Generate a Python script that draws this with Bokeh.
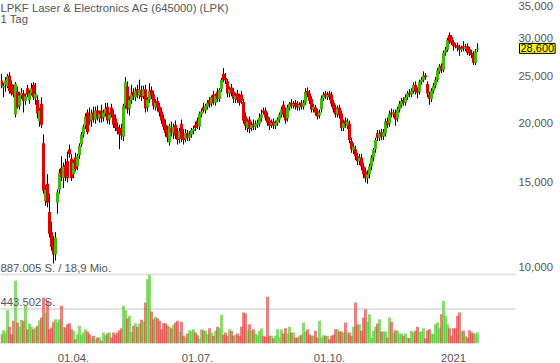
import numpy as np
from bokeh.plotting import figure
from bokeh.models import (Range1d, LinearScale, FixedTicker, LinearAxis,
                          Label, ColumnDataSource)
from bokeh.embed import file_html
from bokeh.resources import INLINE

# ---------------- data ----------------
title_text = "LPKF Laser & Electronics AG (645000) (LPK)"
period_text = "1 Tag"
vol_max_text = "887.005 S. / 18,9 Mio."
vol_half_text = "443.502 S."
vol_max = 887005

opens = [24.5, 23.7, 24.0, 23.8, 25.1, 24.1, 23.6, 20.8, 23.2, 21.7, 22.8, 23.0, 22.2, 23.6, 22.3, 23.0, 24.0, 22.5, 22.3, 20.1,
         21.9, 18.1, 13.7, 14.9, 13.0, 11.8, 11.0, 10.6, 13.6, 14.5, 16.1, 15.3, 16.3, 16.6, 17.6, 16.8, 15.6, 16.9, 16.2, 17.1,
         18.0, 18.9, 19.7, 21.0, 20.8, 20.2, 21.0, 20.3, 21.2, 20.4, 21.2, 20.5, 20.9, 21.6, 20.3, 21.5, 20.8, 20.4, 19.6, 19.4,
         19.5, 18.7, 21.7, 23.8, 21.4, 22.3, 23.2, 22.6, 23.5, 22.8, 23.4, 22.7, 23.5, 21.5, 22.3, 23.4, 22.9, 21.6, 22.2, 21.6,
         21.1, 20.4, 19.8, 19.3, 18.2, 19.5, 19.0, 19.8, 19.1, 18.5, 19.9, 18.9, 18.5, 19.0, 18.6, 18.9, 19.2, 19.8, 20.2, 19.6,
         20.8, 21.6, 21.2, 21.6, 22.3, 21.9, 22.9, 22.0, 23.2, 22.4, 23.5, 25.3, 24.8, 24.4, 23.0, 23.7, 23.2, 22.4, 23.0, 22.6,
         22.9, 22.1, 20.6, 19.5, 20.3, 19.5, 19.9, 19.6, 19.8, 19.9, 20.4, 21.2, 21.2, 20.6, 20.2, 19.8, 20.1, 19.7, 20.0, 20.3,
         20.8, 21.8, 21.2, 20.4, 21.5, 22.0, 21.7, 22.0, 21.9, 21.5, 22.0, 21.6, 22.0, 23.3, 23.0, 22.4, 21.3, 21.5, 21.1, 20.7,
         21.3, 22.5, 23.0, 22.6, 23.0, 22.9, 22.0, 21.5, 20.8, 21.5, 20.9, 19.5, 20.2, 19.7, 19.9, 18.3, 17.5, 17.6, 17.0, 16.6,
         16.9, 16.2, 15.8, 15.3, 15.6, 16.2, 16.9, 17.6, 19.0, 18.6, 19.1, 18.7, 19.0, 20.1, 19.9, 21.0, 20.8, 21.0, 20.4, 21.3,
         21.8, 22.3, 22.0, 22.6, 23.1, 22.9, 23.3, 24.0, 23.4, 23.2, 24.3, 24.6, 25.1, 24.1, 22.9, 22.4, 23.3, 23.9, 24.6, 25.6,
         26.3, 25.8, 28.0, 28.4, 30.5, 30.2, 29.5, 29.0, 29.0, 28.8, 28.4, 28.9, 28.5, 28.9, 28.5, 28.0, 27.9, 26.7, 28.4]
highs = [25.3, 24.2, 24.9, 25.3, 25.5, 24.5, 24.0, 24.3, 23.8, 23.2, 23.6, 23.4, 23.0, 24.0, 23.4, 24.2, 24.3, 24.2, 22.8, 21.5,
         22.6, 18.9, 14.8, 15.6, 14.2, 12.4, 11.6, 11.8, 14.5, 16.0, 17.0, 16.5, 16.8, 17.4, 18.0, 17.2, 16.7, 17.3, 17.2, 18.1,
         19.1, 19.8, 20.9, 21.3, 21.5, 21.3, 21.6, 21.6, 21.7, 21.2, 21.8, 21.3, 22.0, 22.0, 21.0, 21.9, 21.3, 20.8, 20.0, 19.8,
         19.9, 21.9, 24.9, 24.4, 22.7, 24.0, 23.6, 23.7, 24.0, 24.6, 23.9, 23.9, 24.0, 22.6, 24.2, 23.8, 23.3, 22.4, 22.6, 22.0,
         21.5, 20.8, 20.3, 19.7, 19.9, 20.1, 19.9, 20.2, 19.5, 19.5, 20.3, 19.4, 19.4, 19.3, 19.2, 19.5, 19.7, 20.1, 20.5, 21.1,
         21.4, 22.0, 21.9, 22.3, 22.6, 22.8, 23.3, 23.0, 23.6, 23.6, 24.8, 26.0, 25.4, 24.7, 23.8, 24.1, 23.6, 23.1, 23.4, 23.0,
         23.3, 22.4, 21.0, 20.4, 20.6, 20.1, 20.3, 20.2, 20.3, 20.9, 21.3, 21.5, 21.5, 21.0, 20.5, 20.3, 20.4, 20.2, 20.5, 21.0,
         21.6, 22.2, 21.5, 21.8, 22.1, 22.4, 22.2, 22.3, 22.2, 22.1, 22.3, 22.3, 23.6, 23.7, 23.4, 22.7, 21.9, 21.8, 21.4, 21.3,
         22.8, 23.2, 23.3, 23.2, 23.3, 23.2, 22.3, 21.8, 21.7, 21.8, 21.2, 20.3, 20.5, 20.4, 20.2, 18.6, 18.1, 17.9, 17.3, 17.2,
         17.2, 16.5, 16.1, 15.9, 16.4, 17.1, 17.7, 18.6, 19.3, 19.3, 19.4, 19.4, 20.4, 20.5, 21.2, 21.4, 21.3, 21.3, 21.6, 22.2,
         22.5, 22.6, 22.9, 23.3, 23.5, 23.6, 24.3, 24.4, 23.7, 24.6, 24.9, 25.6, 25.4, 24.4, 23.2, 23.6, 24.2, 24.9, 26.0, 26.5,
         26.6, 28.3, 28.8, 30.1, 30.9, 30.5, 29.8, 29.3, 29.4, 29.1, 29.0, 29.6, 29.2, 29.3, 28.8, 28.4, 28.2, 28.5, 29.3]
lows = [23.6, 22.6, 23.2, 23.6, 23.0, 22.8, 22.6, 20.5, 21.4, 21.3, 22.4, 21.0, 21.8, 22.6, 21.9, 22.8, 22.3, 21.8, 20.4, 19.6,
        19.5, 14.2, 13.4, 13.3, 11.5, 10.8, 10.15, 10.3, 12.9, 14.2, 15.1, 14.6, 15.1, 15.0, 16.9, 15.1, 15.3, 15.8, 15.9, 16.8,
        17.8, 18.6, 19.4, 18.9, 19.8, 19.6, 20.0, 19.9, 20.2, 20.0, 20.0, 20.1, 20.6, 19.9, 19.8, 20.5, 19.5, 19.2, 18.9, 17.6,
        18.4, 18.3, 21.4, 20.9, 20.7, 21.9, 22.3, 22.2, 22.5, 22.4, 22.2, 22.4, 21.0, 21.1, 22.0, 22.4, 21.3, 21.2, 21.1, 20.6,
        19.9, 19.3, 18.7, 18.2, 17.9, 18.7, 18.5, 18.5, 18.0, 18.1, 18.2, 18.0, 18.2, 18.3, 18.3, 18.6, 18.9, 19.2, 19.4, 19.3,
        20.5, 21.0, 20.9, 21.3, 21.5, 21.6, 21.8, 21.7, 22.1, 22.1, 23.2, 24.3, 24.1, 22.6, 22.6, 22.7, 22.0, 22.0, 22.0, 21.7,
        21.9, 19.9, 19.3, 19.1, 19.0, 19.2, 19.3, 19.3, 19.5, 19.6, 20.1, 20.8, 20.2, 19.7, 19.3, 19.5, 19.4, 19.4, 19.7, 20.0,
        20.5, 20.5, 19.9, 20.1, 21.2, 21.4, 21.4, 21.3, 21.2, 21.2, 21.3, 21.3, 21.8, 22.6, 21.9, 21.0, 21.0, 20.7, 20.3, 20.4,
        21.0, 22.2, 22.4, 22.3, 22.3, 21.6, 21.0, 20.5, 20.5, 20.4, 19.2, 19.2, 19.5, 19.4, 18.1, 17.3, 17.2, 16.7, 16.3, 16.3,
        15.9, 15.3, 15.0, 14.9, 15.3, 15.9, 16.6, 17.3, 18.3, 18.3, 18.4, 18.4, 18.7, 19.5, 19.6, 20.5, 20.5, 19.7, 20.1, 21.0,
        21.5, 21.7, 21.7, 22.3, 22.6, 22.6, 23.0, 22.9, 22.5, 22.9, 24.0, 24.3, 24.6, 22.6, 21.8, 22.1, 23.0, 23.6, 24.3, 25.3,
        25.4, 25.5, 27.6, 28.1, 29.2, 29.1, 28.3, 28.6, 28.2, 27.6, 28.1, 28.2, 28.2, 27.7, 27.6, 27.3, 26.4, 26.4, 28.1]
closes = [23.9, 23.9, 24.5, 25.0, 23.3, 23.0, 22.9, 24.1, 21.6, 22.8, 23.1, 22.2, 22.7, 22.9, 23.0, 23.6, 22.6, 23.0, 20.9, 21.2,
          19.8, 14.4, 14.5, 13.6, 11.7, 11.0, 10.6, 11.5, 14.3, 15.7, 15.4, 16.2, 15.4, 15.3, 17.2, 15.3, 16.5, 16.0, 17.0, 17.9,
          18.9, 19.6, 20.6, 19.1, 20.1, 20.9, 20.3, 21.2, 20.5, 20.9, 20.4, 21.0, 21.4, 20.2, 20.8, 20.8, 19.8, 19.5, 19.2, 18.9,
          18.8, 21.7, 24.3, 21.3, 22.3, 23.0, 22.7, 23.3, 22.9, 23.4, 22.6, 23.5, 21.4, 22.3, 23.3, 22.8, 21.7, 22.0, 21.5, 21.0,
          20.2, 19.6, 19.0, 18.6, 19.7, 19.1, 19.6, 18.8, 18.4, 19.2, 18.5, 18.4, 19.0, 18.6, 18.9, 19.3, 19.4, 19.5, 19.7, 20.9,
          21.1, 21.2, 21.7, 22.0, 21.8, 22.6, 22.0, 22.8, 22.4, 23.4, 24.6, 24.6, 24.5, 23.0, 23.5, 23.0, 22.4, 22.8, 22.3, 22.0,
          22.2, 20.2, 19.7, 20.1, 19.4, 19.8, 19.6, 19.9, 20.0, 20.5, 20.8, 21.0, 20.5, 20.0, 19.7, 20.0, 19.7, 20.0, 20.3, 20.8,
          21.3, 20.8, 20.2, 21.5, 21.9, 21.7, 21.9, 21.6, 21.5, 21.8, 21.6, 22.0, 23.2, 22.9, 22.2, 21.3, 21.6, 21.0, 20.6, 21.0,
          22.5, 22.9, 22.7, 22.9, 22.6, 21.9, 21.3, 20.8, 21.4, 20.7, 19.5, 20.0, 19.8, 20.1, 18.4, 17.6, 17.8, 17.0, 16.6, 16.9,
          16.2, 15.6, 15.3, 15.6, 16.2, 16.9, 17.5, 18.4, 18.6, 19.0, 18.7, 19.1, 20.1, 19.8, 20.9, 20.8, 21.0, 20.3, 21.3, 21.9,
          22.2, 22.0, 22.6, 23.0, 22.9, 23.3, 24.0, 23.2, 23.1, 24.3, 24.6, 25.1, 24.9, 23.0, 22.4, 23.3, 23.9, 24.6, 25.7, 26.2,
          25.7, 28.0, 28.4, 29.8, 29.5, 29.4, 28.9, 28.9, 28.7, 28.4, 28.6, 28.6, 28.8, 28.0, 27.9, 27.7, 26.7, 28.2, 28.6]
volumes = [120000, 171000, 141000, 428000, 215000, 120000, 292000, 806000, 270000, 215000,
           305000, 292000, 485000, 184000, 257000, 215000, 184000, 206000, 228000, 300000,
           334000, 591000, 398000, 549000, 184000, 206000, 279000, 312000, 270000, 312000,
           485000, 215000, 206000, 248000, 261000, 184000, 163000, 55000, 120000, 228000,
           112000, 141000, 184000, 154000, 120000, 77000, 99000, 55000, 77000, 77000,
           35000, 141000, 107000, 132000, 141000, 77000, 141000, 112000, 141000, 171000,
           197000, 485000, 428000, 326000, 356000, 150000, 228000, 261000, 215000, 257000,
           305000, 283000, 527000, 827000, 883000, 411000, 312000, 343000, 326000, 292000,
           184000, 261000, 261000, 228000, 215000, 197000, 240000, 270000, 292000, 154000,
           279000, 99000, 77000, 129000, 171000, 163000, 184000, 141000, 107000, 64000,
           184000, 171000, 163000, 120000, 197000, 141000, 99000, 163000, 215000, 197000,
           369000, 112000, 141000, 99000, 184000, 163000, 99000, 112000, 129000, 99000,
           215000, 398000, 386000, 171000, 248000, 171000, 184000, 129000, 107000, 163000,
           193000, 99000, 86000, 600000, 99000, 99000, 69000, 99000, 184000, 77000,
           184000, 129000, 197000, 129000, 215000, 141000, 141000, 77000, 77000, 99000,
           112000, 270000, 154000, 184000, 120000, 99000, 99000, 163000, 77000, 292000,
           77000, 107000, 99000, 99000, 55000, 99000, 112000, 184000, 184000, 154000,
           154000, 141000, 270000, 141000, 141000, 99000, 215000, 527000, 248000, 248000,
           163000, 334000, 441000, 283000, 377000, 77000, 163000, 215000, 257000, 312000,
           154000, 154000, 154000, 77000, 334000, 279000, 141000, 171000, 163000, 120000,
           129000, 99000, 129000, 77000, 69000, 163000, 141000, 163000, 215000, 150000,
           154000, 197000, 69000, 171000, 184000, 129000, 120000, 248000, 270000, 197000,
           377000, 549000, 356000, 248000, 197000, 99000, 197000, 197000, 356000, 398000,
           163000, 163000, 99000, 77000, 171000, 141000, 129000, 129000, 141000]

tick_days = [36, 98, 164, 226]
tick_labels = ["01.04.", "01.07.", "01.10.", "2021"]
price_ticks = [10, 15, 20, 25, 30, 35]

# ---------------- derived ----------------
n = len(closes)
idx = np.arange(n)
o = np.array(opens); c = np.array(closes)
up = c >= o
body_top = np.maximum(o, c)
body_bot = np.minimum(o, c)
GREEN = "#44b80a"
RED = "#e00000"
src = ColumnDataSource(dict(
    x=idx, h=highs, l=lows, top=body_top, bot=body_bot,
    col=[GREEN if u else RED for u in up],
    vol=volumes,
    vcol=["#56c832" if u else "#e44444" for u in up],
))

FONT = "Liberation Sans"
FS = "11.3px"
TXT = "#555555"

W, H = 560, 363
PLOT_W = 515          # width of the drawing area (candles / volume grid)
FRAME_H = 343         # height of price+volume area
VOL_PX = 69           # pixel height of the volume scale's 887.005 line
X0 = -0.5
PX_PER_DAY = 2.0

p = figure(frame_width=W, frame_height=FRAME_H,
           x_range=Range1d(X0, X0 + W / PX_PER_DAY),
           y_range=Range1d(6.902, 36.02), y_axis_type="log",
           x_axis_location=None, y_axis_location=None,
           toolbar_location=None, output_backend="svg",
           min_border_left=0, min_border_top=0, min_border_right=0, min_border_bottom=H - FRAME_H,
           outline_line_color=None, background_fill_color="white", border_fill_color="white")
p.grid.visible = False

p.extra_y_ranges = {"vol": Range1d(0, vol_max * FRAME_H / VOL_PX)}
p.extra_y_scales = {"vol": LinearScale()}

x_end = X0 + PLOT_W / PX_PER_DAY

# volume grid lines
p.segment(x0=[X0, X0], x1=[x_end, x_end], y0=[vol_max, vol_max / 2], y1=[vol_max, vol_max / 2],
          y_range_name="vol", line_color="#e3e3e3", line_width=2)

# volume bars
p.vbar(x="x", top="vol", bottom=0, width=1.5, source=src, y_range_name="vol",
       fill_color="vcol", fill_alpha=0.68, line_color=None)

# candles
p.segment(x0="x", y0="l", x1="x", y1="h", source=src, line_color="black", line_width=1)
p.vbar(x="x", top="top", bottom="bot", width=1.5, source=src,
       fill_color="col", line_color=None)

# bottom date axis
ax = LinearAxis(ticker=FixedTicker(ticks=tick_days),
                major_label_overrides={d: t for d, t in zip(tick_days, tick_labels)},
                axis_line_color=None, major_tick_line_color=None, minor_tick_line_color=None,
                major_label_standoff=4, major_label_text_font=FONT,
                major_label_text_font_size=FS, major_label_text_color=TXT)
p.add_layout(ax, "below")

# price scale labels on the right
for t in price_ticks:
    p.add_layout(Label(x=PLOT_W + 3, x_units="screen", y=t, text=f"{t:.3f}".replace(".", ","),
                       text_font=FONT, text_font_size=FS, text_color=TXT,
                       text_baseline="middle", text_align="left"))

# texts
p.add_layout(Label(x=0, y=FRAME_H - 1, x_units="screen", y_units="screen", text=title_text,
                   text_font=FONT, text_font_size=FS, text_color=TXT, text_baseline="top"))
p.add_layout(Label(x=0, y=FRAME_H - 12, x_units="screen", y_units="screen", text=period_text,
                   text_font=FONT, text_font_size=FS, text_color=TXT, text_baseline="top"))
p.add_layout(Label(x=0, y=vol_max, x_units="screen", y_range_name="vol", text=vol_max_text,
                   y_offset=1, text_font=FONT, text_font_size=FS, text_color=TXT,
                   text_baseline="bottom"))
p.add_layout(Label(x=0, y=vol_max / 2, x_units="screen", y_range_name="vol", text=vol_half_text,
                   y_offset=1, text_font=FONT, text_font_size=FS, text_color=TXT,
                   text_baseline="bottom"))

last_txt = f"{closes[-1]:.3f}".replace(".", ",")
p.add_layout(Label(x=PLOT_W + 4, y=closes[-1], x_units="screen", text=last_txt,
                   text_font=FONT, text_font_size="11px", text_color="black",
                   text_baseline="middle", text_align="left",
                   background_fill_color="#ffff00", border_line_color="black",
                   border_line_width=1, padding=1))

open("out.html", "w").write(file_html(p, INLINE))
